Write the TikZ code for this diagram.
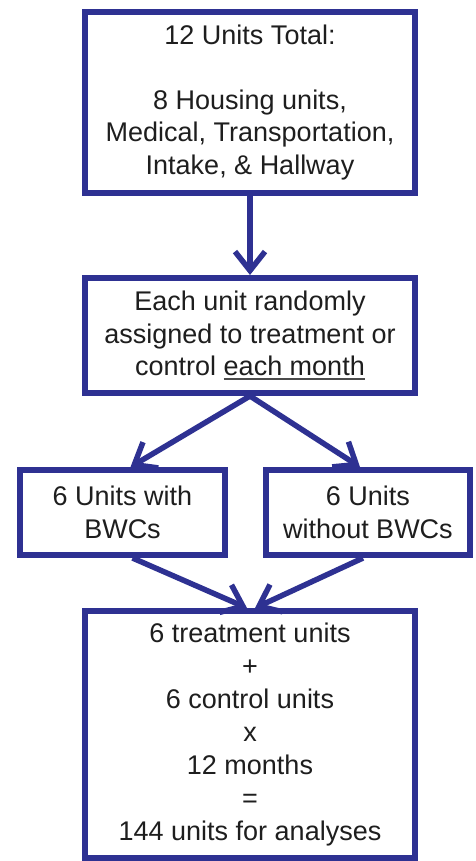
\documentclass[tikz,border=0pt]{standalone}
\usepackage{fontspec}
\setmainfont{Liberation Sans}
\usetikzlibrary{arrows.meta,shadows}
\definecolor{boxblue}{RGB}{46,49,146}
\definecolor{txt}{RGB}{30,30,30}
\newcommand\myul[1]{\setbox0\hbox{#1}\rlap{\color{txt!80}\rule[-4.5pt]{\wd0}{1.6pt}}\box0}
\begin{document}
\begin{tikzpicture}[x=1pt,y=-1pt,
  flowbox/.style={draw=boxblue, line width=6pt, fill=white, align=center,
    inner sep=0pt, text=txt,
    font=\fontsize{27}{32.5}\selectfont,
    drop shadow={shadow xshift=2.5pt, shadow yshift=-2.5pt, opacity=0.25, fill=black!60}},
  flowarrow/.style={draw=boxblue, line width=5.5pt,
    -{Straight Barb[length=19pt,width=30pt]}}]
\useasboundingbox (0,0) rectangle (475,861);
\fill[white] (0,0) rectangle (475,861);
\node[flowbox, minimum width=330pt, minimum height=181pt] (b1) at (250,102.5)
  {12 Units Total:\\[32.5pt]8 Housing units,\\Medical, Transportation,\\Intake, \& Hallway};
\node[flowbox, minimum width=330pt, minimum height=115pt] (b2) at (250,335.5)
  {Each unit randomly\\assigned to treatment or\\control \myul{each month}};
\node[flowbox, minimum width=205pt, minimum height=85pt] (b3) at (122.5,512.5)
  {6 Units with\\BWCs};
\node[flowbox, minimum width=204pt, minimum height=85pt] (b4) at (368,512.5)
  {6 Units\\without BWCs};
\node[flowbox, minimum width=330pt, minimum height=247pt,
  font=\fontsize{27}{33}\selectfont] (b5) at (250,734.5)
  {6 treatment units\\+\\6 control units\\x\\12 months\\=\\144 units for analyses};
\draw[flowarrow] (b1.south) -- (b2.north);
\draw[flowarrow] (b2.south) -- ([xshift=8pt]b3.north);
\draw[flowarrow] (b2.south) -- ([xshift=-8pt]b4.north);
\draw[flowarrow] ([xshift=10pt]b3.south) -- ([xshift=-3pt]b5.north);
\draw[flowarrow] ([xshift=-5pt]b4.south) -- ([xshift=5pt]b5.north);
\end{tikzpicture}
\end{document}
